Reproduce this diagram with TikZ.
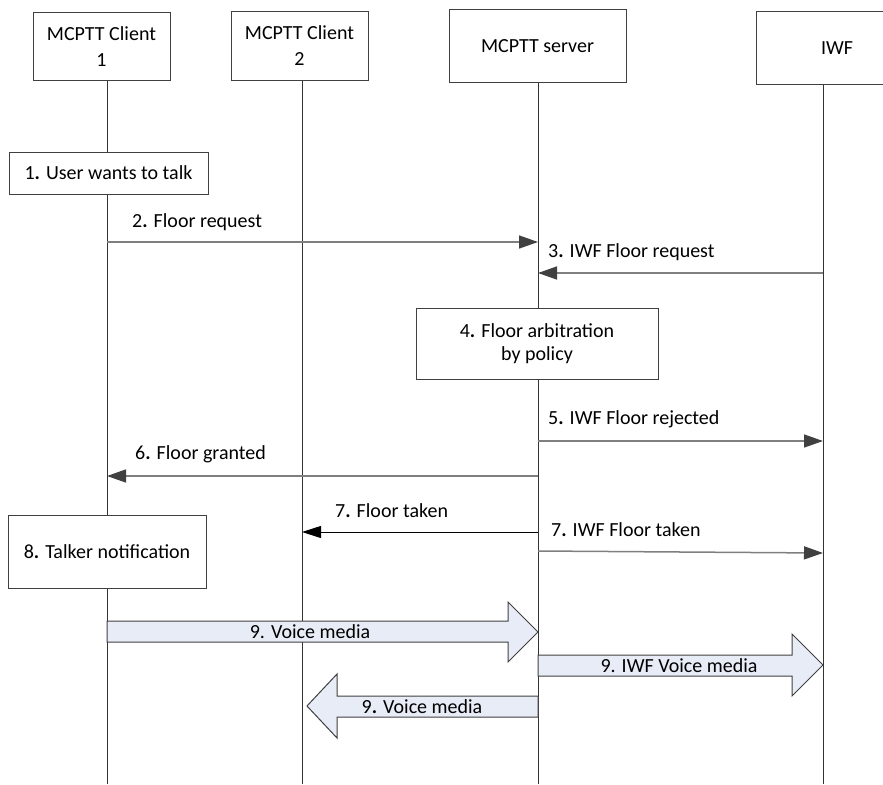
\documentclass[tikz,border=0pt]{standalone}
\usepackage{fontspec}
\setmainfont{Carlito}
\usetikzlibrary{arrows.meta}
\definecolor{linegray}{HTML}{7F7F7F}
\definecolor{headgray}{HTML}{404040}
\definecolor{boxline}{HTML}{404040}
\definecolor{mediafill}{HTML}{E7ECF6}
\newcommand{\dotn}[1]{#1\textbf{.}}
\begin{document}
\begin{tikzpicture}[x=1pt,y=-1pt, font=\fontsize{20}{26}\selectfont,
  actor/.style={draw=boxline, fill=white, line width=1pt, align=center, inner sep=0pt},
  lifeline/.style={draw=black!80, line width=0.9pt},
  msg/.style={draw=linegray, line width=1.5pt, -{Triangle[length=19pt,width=13pt,color=headgray]}},
  msgblack/.style={draw=black, line width=1pt, -{Triangle[length=19pt,width=12pt,color=black]}},
  lbl/.style={anchor=west, inner sep=0pt},
  medlbl/.style={inner sep=0pt},
  media/.style={draw=boxline, fill=mediafill, line width=1pt, line join=miter},
  ]
\useasboundingbox (0,0) rectangle (883,784);
\clip (0,0) rectangle (883,784);

% lifeline bottom coordinates
\coordinate (L1) at (107,784);
\coordinate (L2) at (302,784);
\coordinate (L3) at (538,784);
\coordinate (L4) at (823,784);

% actor heads
\node[actor, minimum width=137pt, minimum height=67pt] (c1) at (101.5,46.5) {MCPTT Client\\1};
\node[actor, minimum width=137pt, minimum height=68pt] (c2) at (299.5,46) {MCPTT Client\\2};
\node[actor, minimum width=177pt, minimum height=72pt] (srv) at (537.5,46) {MCPTT server};
\node[actor, minimum width=162pt, minimum height=72pt] (iwf) at (837,48) {IWF};

% lifelines
\draw[lifeline] (c1.south -| L1) -- (L1);
\draw[lifeline] (c2.south -| L2) -- (L2);
\draw[lifeline] (srv.south -| L3) -- (L3);
\draw[lifeline] (iwf.south -| L4) -- (L4);

% step boxes
\node[actor, minimum width=199pt, minimum height=42pt] (ub) at (108.5,173) {\dotn{1} User wants to talk};
\node[actor, minimum width=242pt, minimum height=71pt] (arb) at (537,343.5) {\dotn{4} Floor arbitration\\[-3pt]by policy};
\node[actor, minimum width=198pt, minimum height=73pt] (tn) at (107,551.5) {\dotn{8} Talker notification};

% messages
\draw[msg] (L1 |- 0,242) -- (L3 |- 0,242);
\node[lbl] (m2) at (132,222) {\dotn{2} Floor request};

\draw[msg] (L4 |- 0,273) -- (L3 |- 0,273);
\node[lbl] (m3) at (548,252) {\dotn{3} IWF Floor request};

\draw[msg] (L3 |- 0,441) -- (L4 |- 0,441);
\node[lbl] (m5) at (548,419.5) {\dotn{5} IWF Floor rejected};

\draw[msg] (L3 |- 0,476) -- (L1 |- 0,476);
\node[lbl] (m6) at (135,454.5) {\dotn{6} Floor granted};

\draw[msgblack] (L3 |- 0,532) -- (L2 |- 0,532);
\node[lbl] (m7) at (335,510.5) {\dotn{7} Floor taken};

\draw[msg] (L3 |- 0,551) -- (L4 |- 0,553);
\node[lbl] (m7b) at (551,530) {\dotn{7} IWF Floor taken};

% voice media arrows
\draw[media] (L1 |- 0,621) -- (508,621) -- (508,602) -- (L3 |- 0,632) -- (508,662) -- (508,642) -- (L1 |- 0,642) -- cycle;
\node[medlbl] (v1) at (310,631.5) {9. Voice media};

\draw[media] (L3 |- 0,655) -- (792,655) -- (792,634) -- (L4 |- 0,665) -- (792,696) -- (792,676) -- (L3 |- 0,676) -- cycle;
\node[medlbl] (v2) at (679,665.5) {9. IWF Voice media};

\draw[media] (L3 |- 0,696) -- (337,696) -- (337,674) -- (307,706) -- (337,738) -- (337,717) -- (L3 |- 0,717) -- cycle;
\node[medlbl] (v3) at (422,706.5) {\dotn{9} Voice media};
\end{tikzpicture}
\end{document}
